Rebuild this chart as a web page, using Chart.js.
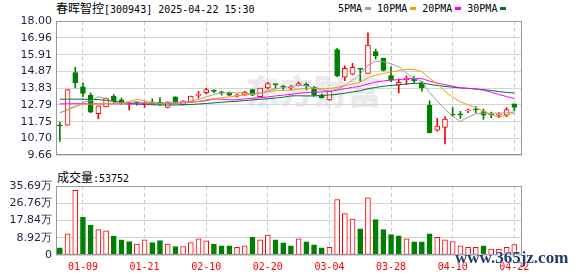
<!DOCTYPE html>
<html><head><meta charset="utf-8">
<script src="https://cdn.jsdelivr.net/npm/chart.js@4.4.1/dist/chart.umd.min.js"></script>
<style>
html,body{margin:0;padding:0;background:#fff;width:578px;height:276px;overflow:hidden;}
#wrap{position:relative;width:578px;height:276px;}
.t{position:absolute;white-space:nowrap;font-family:"Noto Sans CJK SC";font-size:12px;line-height:14px;color:#000;}
.m{font-family:"DejaVu Sans Mono";font-size:10px;}
canvas{position:absolute;left:0;z-index:1;}
.box{display:inline-block;width:6px;height:3px;margin:0 6px 2px 3px;vertical-align:middle;}
#wm1{position:absolute;left:246px;top:66px;font-family:"Noto Sans CJK SC";font-weight:900;font-size:33px;color:#e9e9ee;z-index:0;letter-spacing:1px;}
#wm2{position:absolute;left:455px;top:248px;font-family:"Liberation Serif";font-weight:bold;font-size:17px;color:#1f3d70;z-index:3;text-shadow:0 0 2px #fff,0 0 2px #fff;}
</style></head>
<body><div id="wrap">
<div class="t" style="left:56px;top:1px;">春晖智控<span class="m">[300943] 2025-04-22 15:30</span></div>
<div class="t m" style="left:338px;top:2px;">5PMA<span class="box" style="background:#a0a0a0"></span>10PMA<span class="box" style="background:#f0a000"></span>20PMA<span class="box" style="background:#ff00ff"></span>30PMA<span class="box" style="background:#006f2f"></span></div>
<div class="t" style="left:57px;top:170px;">成交量<span class="m">:53752</span></div>
<div id="wm1">东方财富</div>
<canvas id="c1" width="578" height="166" style="top:0"></canvas>
<canvas id="c2" width="578" height="106" style="top:170px"></canvas>
<div id="wm2">www.365jz.com</div>
</div>
<script>
const dates = ["01-06","01-07","01-08","01-09","01-10","01-13","01-14","01-15","01-16","01-17",
"01-20","01-21","01-22","01-23","01-24","01-27","02-05","02-06","02-07","02-10",
"02-11","02-12","02-13","02-14","02-17","02-18","02-19","02-20","02-21","02-24",
"02-25","02-26","02-27","02-28","03-03","03-04","03-05","03-06","03-07","03-10",
"03-11","03-12","03-13","03-28","03-31","04-01","04-02","04-03","04-07","04-08",
"04-09","04-10","04-11","04-14","04-15","04-16","04-17","04-18","04-21","04-22"];
const opens = [11.55,11.54,14.80,13.92,13.40,12.25,12.67,13.34,13.11,12.82,
12.93,12.86,12.96,12.95,12.63,13.30,12.79,12.98,13.38,13.55,
13.67,13.60,13.55,13.34,13.40,13.74,13.30,13.84,14.07,13.93,
13.84,13.97,14.07,13.88,13.40,13.11,16.22,14.51,14.70,15.03,
14.74,16.10,15.70,14.62,14.03,14.36,14.40,14.17,12.77,11.23,
11.39,12.17,12.19,12.42,12.54,12.38,12.23,12.15,12.15,12.86];
const highs = [11.73,13.74,15.12,14.17,13.53,12.73,13.21,13.44,13.21,12.95,
12.98,12.98,13.17,13.25,12.98,13.30,13.05,13.34,13.63,13.82,
13.73,13.65,13.60,13.46,13.63,13.76,13.84,14.20,14.07,14.01,
14.01,14.22,14.17,13.94,13.46,13.63,16.30,15.22,15.37,15.05,
17.27,16.25,15.70,15.15,14.40,14.59,14.55,14.26,13.05,11.96,
12.06,12.63,12.40,12.54,12.69,12.54,12.35,12.31,12.63,12.86];
const lows = [10.52,11.54,13.84,13.30,12.31,11.92,12.67,12.92,12.82,12.48,
12.77,12.63,12.82,12.78,12.60,12.90,12.79,12.98,13.21,13.48,
13.55,13.40,13.36,13.28,13.38,13.36,13.28,13.78,13.78,13.74,
13.74,13.97,13.74,13.34,13.21,13.07,14.55,14.30,14.65,14.26,
14.74,15.65,14.90,14.22,13.53,14.07,14.17,13.65,11.06,11.16,
10.37,12.06,11.96,12.31,12.29,11.90,12.00,12.02,12.06,12.44];
const closes = [11.50,13.74,14.17,13.50,12.35,12.73,13.21,13.02,12.92,12.88,
12.90,12.93,12.91,12.88,12.98,12.92,13.05,13.34,13.42,13.74,
13.63,13.55,13.40,13.42,13.59,13.40,13.84,14.11,14.05,13.90,
13.88,14.11,13.97,13.40,13.25,13.63,14.61,15.07,15.12,15.00,
16.50,15.85,14.93,14.35,14.20,14.45,14.30,13.84,11.06,11.48,
11.92,12.15,12.17,12.44,12.48,12.15,12.18,12.20,12.50,12.63];
const prevClose0 = 11.60;
const volumes = [3.66,10.97,33.4,19.5,15.3,13.1,12.5,9.6,7.8,7.0,
5.7,7.8,6.4,7.5,5.7,4.4,4.4,6.4,8.4,7.3,
5.7,4.7,4.7,4.0,4.7,9.1,7.8,10.3,7.8,6.3,
4.7,8.4,6.8,5.2,3.7,4.0,28.7,21.4,18.6,13.6,
29.6,18.3,13.1,10.5,9.9,8.4,6.8,6.8,11.0,9.2,
7.8,7.0,4.7,4.0,4.0,4.7,3.0,3.0,4.0,5.3752];
const ma5 = [12.30,12.50,12.72,12.96,13.05,13.30,13.19,12.96,12.85,12.95,
12.99,12.93,12.91,12.90,12.92,12.92,12.95,13.03,13.14,13.29,
13.44,13.54,13.55,13.55,13.52,13.47,13.53,13.67,13.80,13.86,
13.95,14.01,13.98,13.85,13.72,13.67,13.77,13.99,14.34,14.69,
15.26,15.51,15.48,15.33,15.17,14.76,14.45,14.23,13.57,13.03,
12.52,12.09,11.76,12.04,12.23,12.28,12.28,12.29,12.30,12.36];
const ma10 = [12.31,12.49,12.67,12.84,12.84,12.86,12.88,12.89,12.93,13.00,
13.14,13.06,12.94,12.87,12.94,12.96,12.94,12.97,13.02,13.11,
13.18,13.24,13.29,13.35,13.41,13.45,13.53,13.61,13.67,13.69,
13.71,13.77,13.83,13.83,13.79,13.81,13.89,13.99,14.09,14.20,
14.47,14.64,14.74,14.83,14.93,15.01,14.98,14.85,14.45,14.10,
13.64,13.27,12.99,12.80,12.63,12.40,12.19,12.02,12.17,12.28];
const ma20 = [12.86,12.86,12.87,12.87,12.86,12.86,12.86,12.86,12.86,12.86,
12.86,12.86,12.87,12.88,12.89,12.90,12.92,12.95,13.00,13.05,
13.16,13.15,13.11,13.11,13.17,13.20,13.24,13.29,13.35,13.40,
13.45,13.51,13.56,13.59,13.60,13.63,13.71,13.80,13.88,13.95,
14.09,14.21,14.28,14.33,14.36,14.41,14.43,14.42,14.27,14.15,
14.05,13.95,13.86,13.82,13.78,13.70,13.58,13.44,13.31,13.19];
const ma30 = [13.15,13.15,13.15,13.15,13.14,13.12,13.08,13.02,12.96,12.90,
12.85,12.82,12.80,12.79,12.79,12.79,12.80,12.82,12.85,12.88,
12.92,12.96,12.99,13.02,13.06,13.10,13.14,13.18,13.22,13.27,
13.35,13.36,13.35,13.35,13.38,13.41,13.45,13.52,13.60,13.67,
13.79,13.88,13.95,14.00,14.04,14.09,14.13,14.15,14.07,14.00,
13.94,13.89,13.85,13.82,13.78,13.74,13.69,13.62,13.57,13.53];
const priceTicks = [9.66,10.70,11.75,12.79,13.83,14.87,15.91,16.96,18.00];
const volTicks = [0,8.92,17.84,26.76,35.69];
const labelIdx = [3,11,19,27,35,43,51,59];

const RED = '#ff0000', GREEN = '#008000';
const idx = dates.map((_, i) => i);
const candleUp = i => closes[i] >= opens[i];
const volUp = i => closes[i] >= (i ? closes[i - 1] : prevClose0);

const frame = {
  id: 'frame',
  afterDraw(c) {
    const { ctx, chartArea: a } = c;
    ctx.save();
    ctx.strokeStyle = '#999999';
    ctx.lineWidth = 1;
    ctx.strokeRect(Math.round(a.left) + 0.5, Math.round(a.top) + 0.5,
      Math.round(a.right - a.left) - 1, Math.round(a.bottom - a.top) - 1);
    ctx.restore();
  }
};

function xAxis(showLabels) {
  return {
    type: 'linear', min: -0.5, max: 60, offset: false,
    afterBuildTicks: s => { s.ticks = labelIdx.map(v => ({ value: v })); },
    afterFit: s => { s.height = showLabels ? 21 : 0; },
    grid: { offset: false, color: '#cccccc', lineWidth: 1, drawTicks: false },
    border: { display: false, dash: [4, 3] },
    ticks: {
      display: showLabels, autoSkip: false, maxRotation: 0, padding: 6,
      color: '#ff0000', font: { family: 'DejaVu Sans Mono', size: 10 },
      callback: v => dates[v]
    }
  };
}

const common = {
  responsive: false, animation: false, devicePixelRatio: 1,
  plugins: { legend: { display: false }, tooltip: { enabled: false } },
  events: []
};

new Chart(document.getElementById('c1'), {
  type: 'line',
  data: {
    datasets: [
      { type: 'line', data: idx.map(i => ({ x: i, y: ma5[i] })), borderColor: '#a0a0a0', borderWidth: 1, pointRadius: 0, tension: 0, order: 0 },
      { type: 'line', data: idx.map(i => ({ x: i, y: ma10[i] })), borderColor: '#f0a000', borderWidth: 1, pointRadius: 0, tension: 0, order: 0 },
      { type: 'line', data: idx.map(i => ({ x: i, y: ma20[i] })), borderColor: '#ff00ff', borderWidth: 1, pointRadius: 0, tension: 0, order: 0 },
      { type: 'line', data: idx.map(i => ({ x: i, y: ma30[i] })), borderColor: '#006f2f', borderWidth: 1, pointRadius: 0, tension: 0, order: 0 },
      { type: 'bar', data: idx.map(i => ({ x: i, y: [opens[i], closes[i]] })), barThickness: 5, grouped: false,
        backgroundColor: c => candleUp(c.dataIndex) ? '#ffffff' : GREEN,
        borderColor: c => candleUp(c.dataIndex) ? RED : GREEN,
        borderWidth: 1, borderSkipped: false, minBarLength: 1, order: 2 },
      { type: 'bar', data: idx.map(i => ({ x: i, y: [lows[i], highs[i]] })), barThickness: 1, grouped: false,
        backgroundColor: c => candleUp(c.dataIndex) ? RED : GREEN,
        borderWidth: 0, minBarLength: 1, order: 3 }
    ]
  },
  options: Object.assign({}, common, {
    layout: { padding: { top: 21, bottom: 1, left: 0, right: 56 } },
    scales: {
      x: xAxis(false),
      y: {
        type: 'linear', min: 9.66, max: 18.00,
        afterBuildTicks: s => { s.ticks = priceTicks.map(v => ({ value: v })); },
        afterFit: s => { s.width = 56; },
        grid: { color: '#d4d4d4', drawTicks: false },
        border: { display: false },
        ticks: { padding: 4, color: '#1c2340', font: { family: 'DejaVu Sans', size: 11 }, callback: v => v.toFixed(2) }
      }
    }
  }),
  plugins: [frame]
});

new Chart(document.getElementById('c2'), {
  type: 'bar',
  data: {
    datasets: [
      { data: idx.map(i => ({ x: i, y: volumes[i] })), barThickness: 5,
        backgroundColor: c => volUp(c.dataIndex) ? '#ffffff' : GREEN,
        borderColor: c => volUp(c.dataIndex) ? RED : GREEN,
        borderWidth: 1, borderSkipped: false }
    ]
  },
  options: Object.assign({}, common, {
    layout: { padding: { top: 16, bottom: 0, left: 0, right: 56 } },
    scales: {
      x: xAxis(true),
      y: {
        type: 'linear', min: 0, max: 35.69,
        afterBuildTicks: s => { s.ticks = volTicks.map(v => ({ value: v })); },
        afterFit: s => { s.width = 56; },
        grid: { color: '#d4d4d4', drawTicks: false },
        border: { display: false },
        ticks: { padding: 4, color: '#1c2340', font: { family: 'DejaVu Sans', size: 11 }, callback: v => v === 0 ? '0' : v.toFixed(2) + '万' }
      }
    }
  }),
  plugins: [frame]
});
</script>
</body></html>
